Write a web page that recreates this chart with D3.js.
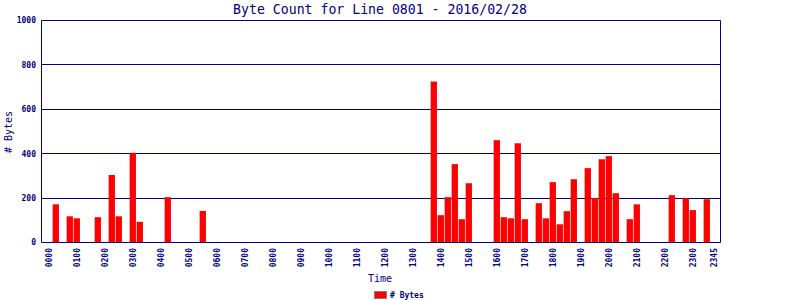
<!DOCTYPE html>
<html>
<head>
<meta charset="utf-8">
<script src="https://cdn.jsdelivr.net/npm/d3@7"></script>
<style>
  body { margin: 0; background: #fff; }
  svg { display: block; }
</style>
</head>
<body>
<svg id="chart" width="800" height="300"></svg>
<script>
var times = ["0015", "0045", "0100", "0145", "0215", "0230", "0300", "0315", "0415", "0530",
             "1345", "1400", "1415", "1430", "1445", "1500", "1600", "1615", "1630", "1645",
             "1700", "1730", "1745", "1800", "1815", "1830", "1845", "1915", "1930", "1945",
             "2000", "2015", "2045", "2100", "2215", "2245", "2300", "2330"];
var bytes = [172, 118, 109, 114, 304, 118, 404, 93, 204, 142,
             725, 123, 204, 353, 105, 267, 461, 114, 109, 447,
             105, 177, 109, 272, 82, 141, 285, 335, 200, 375,
             389, 222, 105, 172, 213, 200, 146, 195];
var tickLabels = ["0000", "0100", "0200", "0300", "0400", "0500", "0600", "0700", "0800", "0900",
                  "1000", "1100", "1200", "1300", "1400", "1500", "1600", "1700", "1800", "1900",
                  "2000", "2100", "2200", "2300", "2345"];
var yTicks = [0, 200, 400, 600, 800, 1000];

var navy = "#000080";
var mono = "'DejaVu Sans Mono', 'Liberation Mono', monospace";

var svg = d3.select("#chart");

// all 96 quarter-hour slots of the day
var slots = [];
d3.range(24).forEach(function(h) {
    ["00", "15", "30", "45"].forEach(function(m) {
        slots.push((h < 10 ? "0" : "") + h + m);
    });
});

var plotLeft = 41.5, plotRight = 720.5, plotTop = 20.5, plotBottom = 242.5;

var x = d3.scaleBand()
    .domain(slots)
    .range([45.3, 717.3])
    .paddingInner(0.1)
    .paddingOuter(0.05);

var y = d3.scaleLinear()
    .domain([0, 1000])
    .range([plotBottom, plotTop]);

// snap a y position to the pixel grid so 1px lines stay crisp
function crisp(v) { return Math.round(v - 0.5) + 0.5; }

// grid lines
svg.append("g")
    .selectAll("line")
    .data(yTicks)
    .enter()
    .append("line")
    .attr("x1", plotLeft)
    .attr("x2", plotRight)
    .attr("y1", function(d) { return crisp(y(d)); })
    .attr("y2", function(d) { return crisp(y(d)); })
    .attr("stroke", navy)
    .attr("stroke-width", 1);

// bars
svg.append("g")
    .selectAll("rect")
    .data(times)
    .enter()
    .append("rect")
    .attr("x", function(d) { return x(d); })
    .attr("width", x.bandwidth())
    .attr("y", function(d, i) { return y(bytes[i]); })
    .attr("height", function(d, i) { return y(0) - 0.5 - y(bytes[i]); })
    .attr("fill", "#ff0000");

// frame: left and right axis lines
svg.append("line")
    .attr("x1", plotLeft).attr("x2", plotLeft)
    .attr("y1", plotTop).attr("y2", plotBottom)
    .attr("stroke", navy);
svg.append("line")
    .attr("x1", plotRight).attr("x2", plotRight)
    .attr("y1", plotTop).attr("y2", plotBottom)
    .attr("stroke", navy);

// y tick labels
svg.append("g")
    .selectAll("text")
    .data(yTicks)
    .enter()
    .append("text")
    .attr("x", 36)
    .attr("y", function(d) { return y(d); })
    .attr("dy", "0.35em")
    .attr("text-anchor", "end")
    .attr("font-family", mono)
    .attr("font-weight", "bold")
    .attr("font-size", 8)
    .attr("fill", navy)
    .text(function(d) { return d; });

// x tick labels, rotated
svg.append("g")
    .selectAll("text")
    .data(tickLabels)
    .enter()
    .append("text")
    .attr("transform", function(d) {
        return "translate(" + (x(d) + x.bandwidth() / 2) + ",248) rotate(-90)";
    })
    .attr("dy", "0.35em")
    .attr("text-anchor", "end")
    .attr("font-family", mono)
    .attr("font-weight", "bold")
    .attr("font-size", 8)
    .attr("fill", navy)
    .text(function(d) { return d; });

// title
svg.append("text")
    .attr("x", 380)
    .attr("y", 14)
    .attr("text-anchor", "middle")
    .attr("font-family", mono)
    .attr("font-size", 13.2)
    .attr("fill", navy)
    .text("Byte Count for Line 0801 - 2016/02/28");

// axis titles
svg.append("text")
    .attr("x", 380)
    .attr("y", 282)
    .attr("text-anchor", "middle")
    .attr("font-family", mono)
    .attr("font-size", 10)
    .attr("fill", navy)
    .text("Time");

svg.append("text")
    .attr("transform", "translate(12,132) rotate(-90)")
    .attr("text-anchor", "middle")
    .attr("font-family", mono)
    .attr("font-size", 10)
    .attr("fill", navy)
    .text("# Bytes");

// legend
svg.append("rect")
    .attr("x", 374.5)
    .attr("y", 291.5)
    .attr("width", 12)
    .attr("height", 7)
    .attr("fill", "#ff0000")
    .attr("stroke", "#808080");

svg.append("text")
    .attr("x", 390)
    .attr("y", 295)
    .attr("dy", "0.35em")
    .attr("font-family", mono)
    .attr("font-weight", "bold")
    .attr("font-size", 8)
    .attr("fill", navy)
    .text("# Bytes");
</script>
</body>
</html>
